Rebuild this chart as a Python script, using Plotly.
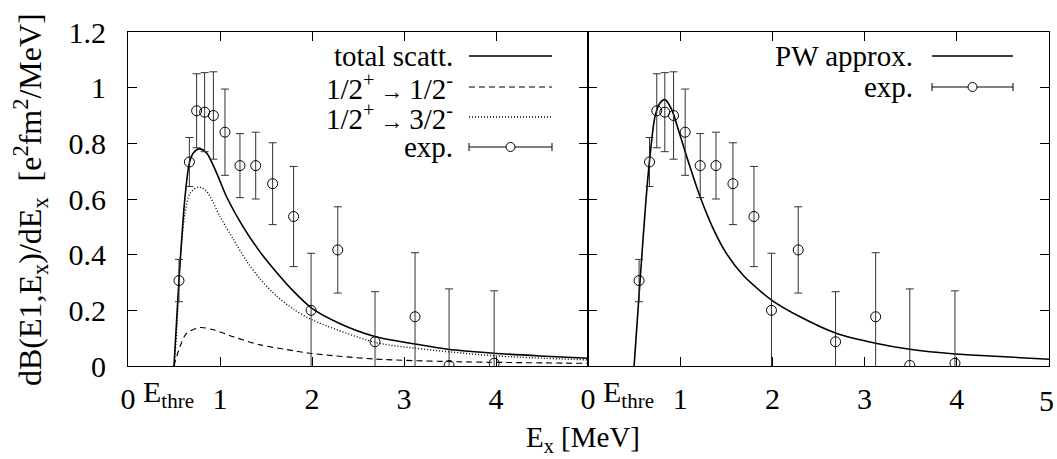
import plotly.graph_objects as go

W, H = 1057, 459

# ---------------- data ----------------
exp_x = [0.554, 0.667, 0.746, 0.833, 0.928, 1.054, 1.217, 1.388, 1.572, 1.80,
         1.99, 2.28, 2.685, 3.12, 3.49, 3.98]
exp_y = [0.307, 0.733, 0.917, 0.912, 0.900, 0.840, 0.720, 0.720, 0.655, 0.537,
         0.200, 0.417, 0.087, 0.177, 0.002, 0.010]
exp_err = [0.076, 0.088, 0.133, 0.142, 0.157, 0.155, 0.115, 0.120, 0.147, 0.180,
           0.205, 0.155, 0.180, 0.230, 0.275, 0.260]

total_x = [0.50, 0.554, 0.62, 0.667, 0.71, 0.775, 0.855, 0.964, 1.07, 1.25, 1.435,
           1.616, 1.80, 2.0, 2.3, 2.685, 3.12, 3.48, 3.97, 4.48, 5.0]
total_y = [0.0, 0.309, 0.609, 0.729, 0.765, 0.780, 0.765, 0.693, 0.609, 0.501, 0.410,
           0.336, 0.268, 0.207, 0.153, 0.106, 0.079, 0.060, 0.046, 0.036, 0.028]

p32_x = [0.50, 0.53, 0.565, 0.62, 0.674, 0.764, 0.855, 1.0, 1.145, 1.29, 1.435,
         1.616, 1.80, 2.0, 2.685, 3.12, 3.97, 5.0]
p32_y = [0.0, 0.13, 0.37, 0.55, 0.62, 0.643, 0.627, 0.537, 0.455, 0.377, 0.313,
         0.251, 0.204, 0.166, 0.085, 0.064, 0.037, 0.022]

p12_x = [0.50, 0.565, 0.638, 0.78, 0.928, 1.145, 1.435, 1.80, 2.0, 2.685, 3.48, 5.0]
p12_y = [0.0, 0.070, 0.118, 0.138, 0.130, 0.105, 0.076, 0.055, 0.045, 0.025, 0.016, 0.0096]

pw_x = [0.50, 0.564, 0.629, 0.672, 0.727, 0.781, 0.835, 0.908, 0.98, 1.07, 1.215,
        1.36, 1.504, 1.685, 1.866, 1.99, 2.30, 2.69, 3.12, 3.49, 3.98, 4.47, 5.0]
pw_y = [0.0, 0.303, 0.597, 0.753, 0.897, 0.945, 0.957, 0.921, 0.849, 0.753, 0.609,
        0.492, 0.403, 0.325, 0.270, 0.237, 0.177, 0.118, 0.082, 0.060, 0.043, 0.034, 0.024]

left_ticks = [0, 1, 2, 3, 4]
right_ticks = [0, 1, 2, 3, 4, 5]
y_ticks = [0, 0.2, 0.4, 0.6, 0.8, 1.0, 1.2]
E_thre = 0.435

ARROW = "\u2009<span style='font-size:23px'>\u2192</span>\u2009"
left_legend = ["total scatt.", "1/2<sup>+</sup>" + ARROW + "1/2<sup>-</sup>",
               "1/2<sup>+</sup>" + ARROW + "3/2<sup>-</sup>", "exp."]
right_legend = ["PW approx.", "exp."]

FONT = "Liberation Serif"
FS = 30


def px(x):
    return x / W


def py(y):
    return 1 - y / H


fig = go.Figure()

err_style = dict(type="data", array=exp_err, visible=True, thickness=1, width=4, color="#333")
mk = dict(symbol="circle-open", size=10, color="black", line=dict(width=1, color="black"))

# left panel
fig.add_trace(go.Scatter(x=total_x, y=total_y, mode="lines",
                         line=dict(color="black", width=1.6, shape="spline", smoothing=0.8),
                         xaxis="x", yaxis="y", showlegend=False))
fig.add_trace(go.Scatter(x=p12_x, y=p12_y, mode="lines",
                         line=dict(color="black", width=1.1, dash="6px,4px", shape="spline", smoothing=0.8),
                         xaxis="x", yaxis="y", showlegend=False))
fig.add_trace(go.Scatter(x=p32_x, y=p32_y, mode="lines",
                         line=dict(color="black", width=1.4, dash="1px,2px", shape="spline", smoothing=0.8),
                         xaxis="x", yaxis="y", showlegend=False))
fig.add_trace(go.Scatter(x=exp_x, y=exp_y, mode="markers", marker=mk, error_y=err_style,
                         xaxis="x", yaxis="y", showlegend=False))
# right panel
fig.add_trace(go.Scatter(x=pw_x, y=pw_y, mode="lines",
                         line=dict(color="black", width=1.6, shape="spline", smoothing=0.8),
                         xaxis="x2", yaxis="y2", showlegend=False))
fig.add_trace(go.Scatter(x=exp_x, y=exp_y, mode="markers", marker=mk, error_y=err_style,
                         xaxis="x2", yaxis="y2", showlegend=False))

x0, xm, x1 = 128, 588, 1049
ytop, ybot = 32, 366

axcommon = dict(showline=True, linecolor="black", linewidth=1.2, mirror="ticks", ticks="inside",
                ticklen=9, tickcolor="black", tickwidth=1, showgrid=False, zeroline=False,
                tickfont=dict(family=FONT, size=FS, color="black"), automargin=False)

fig.update_layout(
    width=W, height=H,
    margin=dict(l=0, r=0, t=0, b=0),
    paper_bgcolor="white", plot_bgcolor="white",
    xaxis=dict(domain=[px(x0), px(xm)], range=[0, 5], anchor="y", tickvals=left_ticks,
               ticktext=[str(v) for v in left_ticks], ticklabelstandoff=6, **axcommon),
    yaxis=dict(domain=[py(ybot), py(ytop)], range=[0, 1.2], anchor="x", tickvals=y_ticks,
               ticktext=["0", "0.2", "0.4", "0.6", "0.8", "1", "1.2"], ticklabelstandoff=15, **axcommon),
    xaxis2=dict(domain=[px(xm), px(x1)], range=[0, 5], anchor="y2", tickvals=right_ticks,
                ticktext=[str(v) if v < 5 else "" for v in right_ticks], ticklabelstandoff=6, **axcommon),
    yaxis2=dict(domain=[py(ybot), py(ytop)], range=[0, 1.2], anchor="x2", tickvals=y_ticks,
                showticklabels=False, **axcommon),
)

ann = []
shapes = []
# last tick label of the right panel (placed as text so it is not dropped at the page edge)
ann.append(dict(x=right_ticks[-1], xref="x2", y=py(400), yref="paper", text=str(right_ticks[-1]),
                showarrow=False, xanchor="center", yanchor="middle", xshift=-3,
                font=dict(family=FONT, size=FS, color="black")))
# E_thre labels
for xa in ["x", "x2"]:
    ann.append(dict(x=E_thre, xref=xa, y=py(394), yref="paper", text="E<sub>thre</sub>",
                    showarrow=False, xanchor="center", yanchor="middle",
                    font=dict(family=FONT, size=FS, color="black")))
# axis titles
ann.append(dict(x=px(583), y=py(439), xref="paper", yref="paper", text="E<sub>x</sub> [MeV]",
                showarrow=False, xanchor="center", yanchor="middle",
                font=dict(family=FONT, size=29, color="black")))
ann.append(dict(x=px(30), y=py(200), xref="paper", yref="paper", textangle=-90,
                text="dB(E1,E<sub>x</sub>)/dE<sub>x</sub>\u00a0\u00a0[e<sup>2</sup>fm<sup>2</sup>/MeV]",
                showarrow=False, xanchor="center", yanchor="middle",
                font=dict(family=FONT, size=32, color="black")))

# manual legends
rows_l = [56, 87, 117, 147]
styles_l = [("solid", 1.6), ("6px,4px", 1.1), ("1px,2px", 1.4), ("exp", 1)]
rows_r = [56, 87]
styles_r = [("solid", 1.6), ("exp", 1)]


def legend(labels, rows, styles, tx, s0, s1):
    for lab, yy, (st, wd) in zip(labels, rows, styles):
        ann.append(dict(x=px(tx), y=py(yy), xref="paper", yref="paper", text=lab, showarrow=False,
                        xanchor="right", yanchor="middle",
                        font=dict(family=FONT, size=29, color="black")))
        if st == "exp":
            shapes.append(dict(type="line", xref="paper", yref="paper", x0=px(s0), x1=px(s1),
                               y0=py(yy), y1=py(yy), line=dict(color="black", width=1)))
            for sx in (s0, s1):
                shapes.append(dict(type="line", xref="paper", yref="paper", x0=px(sx), x1=px(sx),
                                   y0=py(yy - 4), y1=py(yy + 4), line=dict(color="black", width=1)))
            cx = (s0 + s1) / 2
            shapes.append(dict(type="circle", xref="paper", yref="paper", xsizemode="pixel",
                               ysizemode="pixel", xanchor=px(cx), yanchor=py(yy),
                               x0=-4.5, x1=4.5, y0=-4.5, y1=4.5, fillcolor="white",
                               line=dict(color="black", width=1)))
        else:
            shapes.append(dict(type="line", xref="paper", yref="paper", x0=px(s0), x1=px(s1),
                               y0=py(yy), y1=py(yy), line=dict(color="black", width=wd, dash=st)))


legend(left_legend, rows_l, styles_l, 455, 469, 552)
legend(right_legend, rows_r, styles_r, 915, 932, 1013)

fig.update_layout(annotations=ann, shapes=shapes)
fig.write_html("out.html", config={"displayModeBar": False},
               post_script="document.body.style.margin='0px';")
